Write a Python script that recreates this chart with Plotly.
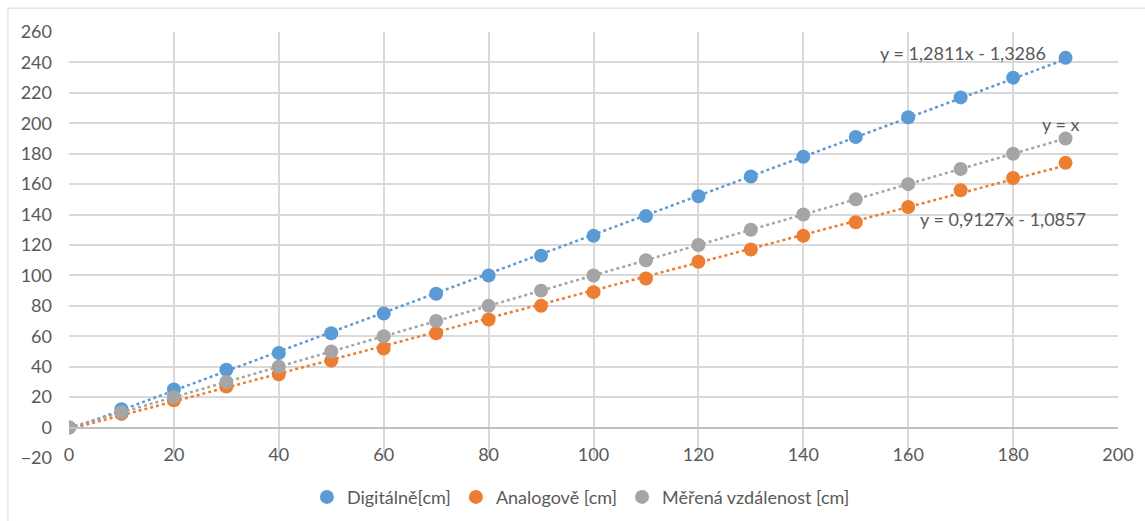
import plotly.graph_objects as go

# measured distances [cm]
distance = [0, 10, 20, 30, 40, 50, 60, 70, 80, 90, 100, 110, 120, 130, 140, 150, 160, 170, 180, 190]
digital = [0, 12, 25, 38, 49, 62, 75, 88, 100, 113, 126, 139, 152, 165, 178, 191, 204, 217, 230, 243]
analog = [0, 9, 18, 27, 35, 44, 52, 62, 71, 80, 89, 98, 109, 117, 126, 135, 145, 156, 164, 174]
measured = [0, 10, 20, 30, 40, 50, 60, 70, 80, 90, 100, 110, 120, 130, 140, 150, 160, 170, 180, 190]

series_names = ["Digitálně[cm]", "Analogově [cm]", "Měřená vzdálenost [cm]"]
colors = ["#5B9BD5", "#ED7D31", "#A5A5A5"]

# linear trend lines (slope, intercept) and their labels
trend_coef = [(1.2811, -1.3286), (0.9127, -1.0857), (1.0, 0.0)]
trend_labels = ["y = 1,2811x - 1,3286", "y = 0,9127x - 1,0857", "y = x"]
label_pos = [(170.5, 246), (178, 137), (189, 199.5)]

FONT = "Lato"
TXT = "#595959"
FS = 18

fig = go.Figure()

x_ends = [distance[0], distance[-1]]
for (a, b), c in zip(trend_coef, colors):
    fig.add_trace(go.Scatter(
        x=x_ends, y=[a * x + b for x in x_ends], mode="lines",
        line=dict(color=c, width=2.5, dash="dot"),
        showlegend=False, hoverinfo="skip"))

for name, ys, c in zip(series_names, [digital, analog, measured], colors):
    fig.add_trace(go.Scatter(
        x=distance, y=ys, mode="markers", name=name,
        marker=dict(color=c, size=14, line=dict(width=0))))

for text, (lx, ly) in zip(trend_labels, label_pos):
    fig.add_annotation(x=lx, y=ly, text=text, showarrow=False,
                       font=dict(family=FONT, size=FS, color=TXT))

# outer chart frame (only its top and left edges fall inside the page)
fig.add_shape(type="rect", xref="paper", yref="paper",
              x0=-0.0582, x1=1.2, y0=-0.4, y1=1.056,
              line=dict(color="#D9D9D9", width=1), layer="below")

fig.update_layout(
    width=1145, height=521,
    margin=dict(l=69, r=27, t=32, b=63, autoexpand=False),
    paper_bgcolor="white", plot_bgcolor="white",
    font=dict(family=FONT, size=FS, color=TXT),
    legend=dict(orientation="h", x=0.488, xanchor="center", y=-0.092, yanchor="middle",
                font=dict(family=FONT, size=FS, color=TXT), itemwidth=30,
                bgcolor="rgba(0,0,0,0)"),
    xaxis=dict(range=[0, 200], dtick=20, tick0=0, showgrid=True,
               gridcolor="#D9D9D9", gridwidth=1.5,
               showline=True, linecolor="#BFBFBF", linewidth=1.5,
               anchor="free", position=20 / 280, ticks="",
               ticklabelstandoff=11, zeroline=False, automargin=False,
               tickfont=dict(family=FONT, size=FS, color=TXT)),
    yaxis=dict(range=[-20, 260], dtick=20, tick0=0, showgrid=True,
               gridcolor="#D9D9D9", gridwidth=1.5, zeroline=False,
               ticks="", ticklabelstandoff=16, automargin=False,
               tickfont=dict(family=FONT, size=FS, color=TXT)),
)

fig.write_html("out.html")
